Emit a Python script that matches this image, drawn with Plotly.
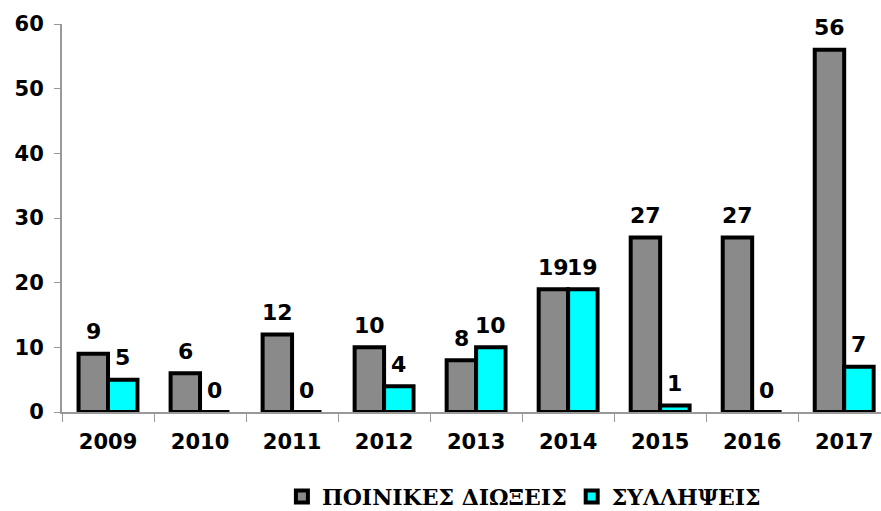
import plotly.graph_objects as go

years = ["2009", "2010", "2011", "2012", "2013", "2014", "2015", "2016", "2017"]
prosecutions = [9, 6, 12, 10, 8, 19, 27, 27, 56]
arrests = [5, 0, 0, 4, 10, 19, 1, 0, 7]

BARGAP = 0.36
label_font = dict(family="DejaVu Sans", size=22, color="black", weight="bold")
tick_font = dict(family="DejaVu Sans", size=21, color="black", weight="bold")

fig = go.Figure()
fig.add_trace(go.Bar(
    x=years, y=prosecutions, name="ΠΟΙΝΙΚΕΣ ΔΙΩΞΕΙΣ",
    marker=dict(color="#8a8a8a", line=dict(color="black", width=4)),
))
fig.add_trace(go.Bar(
    x=years, y=arrests, name="ΣΥΛΛΗΨΕΙΣ",
    marker=dict(color="#00ffff", line=dict(color="black", width=4)),
))

# value labels above each bar of the group
half = (1 - BARGAP) / 4
for series, dx in ((prosecutions, -half), (arrests, half)):
    for i, v in enumerate(series):
        fig.add_annotation(
            x=i + dx, y=v, text=str(v), showarrow=False,
            xref="x", yref="y", yanchor="middle", yshift=22,
            font=label_font,
        )

fig.update_layout(
    width=881, height=511,
    margin=dict(l=62, r=0, t=24, b=99, autoexpand=False),
    paper_bgcolor="white", plot_bgcolor="white",
    barmode="group", bargap=BARGAP, bargroupgap=0,
    showlegend=True,
    legend=dict(
        orientation="h", x=0.564, xanchor="center",
        yref="container", y=0.028, yanchor="middle",
        font=dict(family="DejaVu Serif", size=22, color="black", weight="bold"),
        itemwidth=30, traceorder="normal",
    ),
    xaxis=dict(
        range=[-0.5, 8.4],
        showline=True, linecolor="#999999", linewidth=2,
        ticks="outside", tickson="boundaries", ticklen=8, tickcolor="#999999",
        tickfont=tick_font, ticklabelstandoff=10,
        showgrid=False, automargin=False,
    ),
    yaxis=dict(
        range=[0, 60], dtick=10, showgrid=False, zeroline=False,
        showline=True, linecolor="#999999", linewidth=2,
        ticks="outside", ticklen=6, tickcolor="#999999",
        tickfont=tick_font, ticklabelstandoff=6, automargin=False,
    ),
)

fig.write_html("out.html")
